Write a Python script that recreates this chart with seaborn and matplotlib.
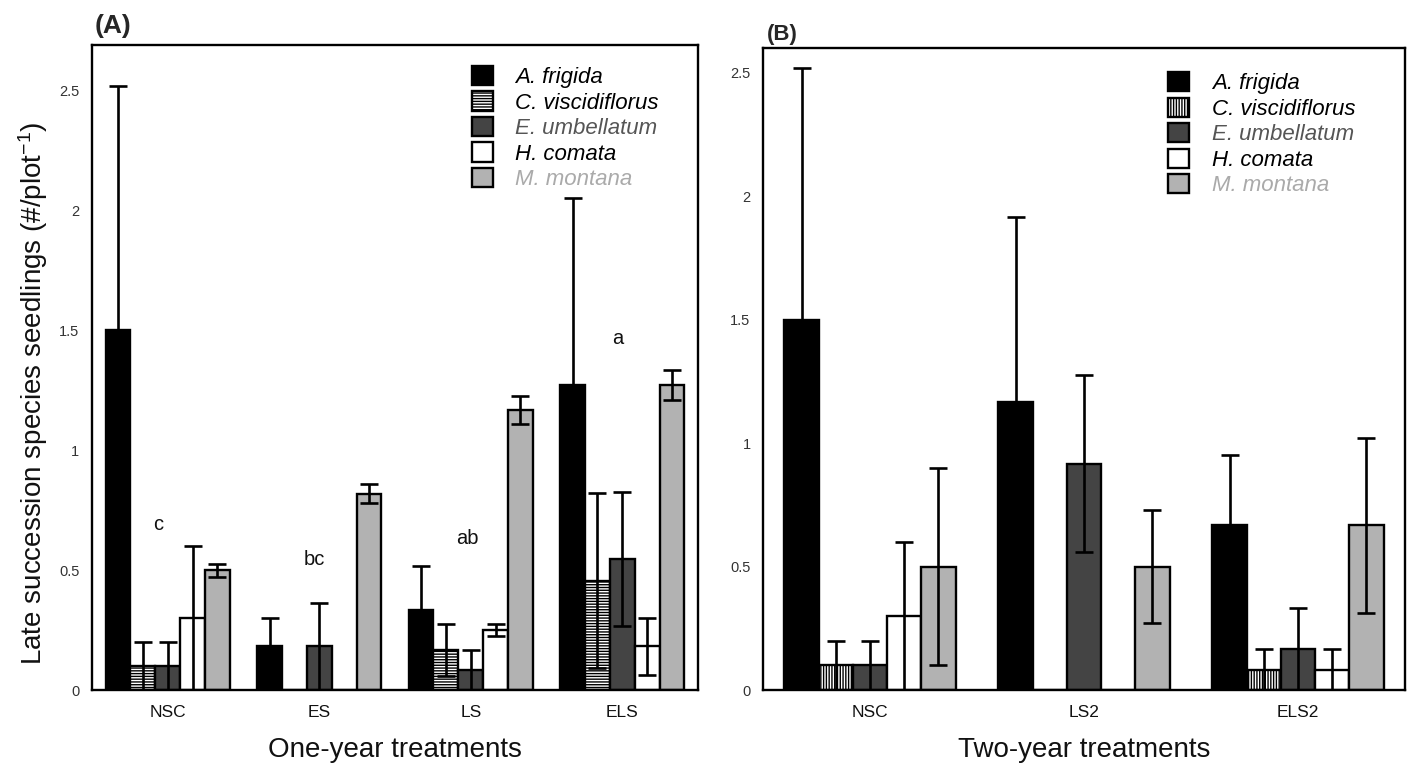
import matplotlib
matplotlib.use("Agg")
import matplotlib.pyplot as plt
from matplotlib.patches import Patch
import seaborn as sns
import pandas as pd
import numpy as np

# ---------------- data ----------------
species = ["A. frigida", "C. viscidiflorus", "E. umbellatum", "H. comata", "M. montana"]

treat_a = ["NSC", "ES", "LS", "ELS"]
mean_a = {
    "A. frigida":       [1.50, 0.182, 0.333, 1.273],
    "C. viscidiflorus": [0.10, 0.0,   0.167, 0.455],
    "E. umbellatum":    [0.10, 0.182, 0.083, 0.545],
    "H. comata":        [0.30, 0.0,   0.250, 0.182],
    "M. montana":       [0.50, 0.818, 1.167, 1.273],
}
err_a = {
    "A. frigida":       [1.02, 0.12, 0.185, 0.78],
    "C. viscidiflorus": [0.10, 0.0,  0.11,  0.365],
    "E. umbellatum":    [0.10, 0.18, 0.083, 0.28],
    "H. comata":        [0.30, 0.0,  0.025, 0.12],
    "M. montana":       [0.027, 0.04, 0.058, 0.063],
}
letters_a = ["c", "bc", "ab", "a"]
letter_x_a = [-0.06, 0.97, 1.98, 2.97]
letter_y_a = [0.69, 0.545, 0.633, 1.467]

treat_b = ["NSC", "LS2", "ELS2"]
mean_b = {
    "A. frigida":       [1.50, 1.167, 0.667],
    "C. viscidiflorus": [0.10, 0.0,   0.083],
    "E. umbellatum":    [0.10, 0.917, 0.167],
    "H. comata":        [0.30, 0.0,   0.083],
    "M. montana":       [0.50, 0.50,  0.667],
}
err_b = {
    "A. frigida":       [1.02, 0.75, 0.283],
    "C. viscidiflorus": [0.10, 0.0,  0.083],
    "E. umbellatum":    [0.10, 0.357, 0.167],
    "H. comata":        [0.30, 0.0,  0.083],
    "M. montana":       [0.40, 0.23, 0.355],
}

yticks_a = [0, 0.5, 1, 1.5, 2, 2.5]
ytick_labels = ["0", "0.5", "1", "1.5", "2", "2.5"]

# ---------------- style ----------------
sns.set_theme(style="white")
plt.rcParams["font.family"] = ["Liberation Sans", "DejaVu Sans"]
plt.rcParams["mathtext.fontset"] = "custom"
plt.rcParams["mathtext.rm"] = "Liberation Sans"
plt.rcParams["mathtext.it"] = "Liberation Sans:italic"
plt.rcParams["hatch.linewidth"] = 1.0
plt.rcParams["hatch.color"] = "black"

colors = ["#000000", "#ffffff", "#444444", "#ffffff", "#b2b2b2"]
text_colors = ["#000000", "#000000", "#555555", "#000000", "#aaaaaa"]
palette = dict(zip(species, colors))


def long_df(treats, means):
    rows = []
    for sp in species:
        for t, v in zip(treats, means[sp]):
            rows.append({"treatment": t, "species": sp, "value": v})
    return pd.DataFrame(rows)


fig = plt.figure(figsize=(14.11, 7.72), dpi=100)
axA = fig.add_axes([92 / 1411, 82 / 772, 606 / 1411, 645 / 772])
axB = fig.add_axes([763 / 1411, 82 / 772, 642 / 1411, 642 / 772])


def draw(ax, treats, means, errs, width, hatch, ylim_top):
    df = long_df(treats, means)
    sns.barplot(data=df, x="treatment", y="value", hue="species",
                order=treats, hue_order=species, palette=palette,
                width=width, errorbar=None, legend=False, ax=ax,
                edgecolor="black", linewidth=1.7, saturation=1)
    for sp, cont in zip(species, ax.containers):
        for bar, e in zip(cont, errs[sp]):
            if sp == "C. viscidiflorus":
                bar.set_hatch(hatch)
            xc = bar.get_x() + bar.get_width() / 2
            h = bar.get_height()
            if h > 0 and e > 0:
                ax.errorbar(xc, h, yerr=e, fmt="none", ecolor="black",
                            elinewidth=1.9, capsize=6.5, capthick=1.9, zorder=5)
    ax.set_xlim(-0.5, len(treats) - 0.5)
    ax.set_ylim(0, ylim_top)
    ax.set_yticks(yticks_a)
    ax.set_yticklabels(ytick_labels)
    ax.tick_params(axis="both", length=0)
    ax.tick_params(axis="y", labelsize=10.5, labelcolor="#333333", pad=9)
    ax.tick_params(axis="x", labelsize=12.5, labelcolor="#111111", pad=11)
    for s in ax.spines.values():
        s.set_visible(True)
        s.set_color("black")
        s.set_linewidth(1.7)
    ax.set_ylabel("")
    handles = [Patch(facecolor=c, edgecolor="black", linewidth=1.7,
                     hatch=(hatch if sp == "C. viscidiflorus" else None))
               for sp, c in zip(species, colors)]
    return handles


hA = draw(axA, treat_a, mean_a, err_a, 0.82, "------", 2.69)
hB = draw(axB, treat_b, mean_b, err_b, 0.80, "||||||", 2.60)

for t, x, y in zip(letters_a, letter_x_a, letter_y_a):
    axA.text(x, y, t, ha="center", va="center", fontsize=14.5, color="#111111")

axA.set_xlabel("One-year treatments", fontsize=20, labelpad=12, color="#111111")
axB.set_xlabel("Two-year treatments", fontsize=20, labelpad=12, color="#111111")
axA.set_ylabel(r"Late succession species seedlings (#/plot$^{-1}$)",
               fontsize=20, color="#111111")
axA.yaxis.set_label_coords(-0.07, 0.46)

for ax, h, anchor in ((axA, hA, (0.608, 0.985)), (axB, hB, (0.614, 0.98))):
    leg = ax.legend(handles=h, labels=species, loc="upper left",
                    bbox_to_anchor=anchor, frameon=False,
                    prop={"style": "italic", "size": 16},
                    handlelength=0.95, handleheight=0.95,
                    handletextpad=1.0, labelspacing=0.15, borderpad=0)
    for txt, c in zip(leg.get_texts(), text_colors):
        txt.set_color(c)

fig.text(95 / 1411, 1 - 14 / 772, "(A)", fontsize=19, fontweight="bold",
         ha="left", va="top")
fig.text(767 / 1411, 1 - 24 / 772, "(B)", fontsize=16, fontweight="bold",
         ha="left", va="top")

fig.savefig("out.png", dpi=100)
